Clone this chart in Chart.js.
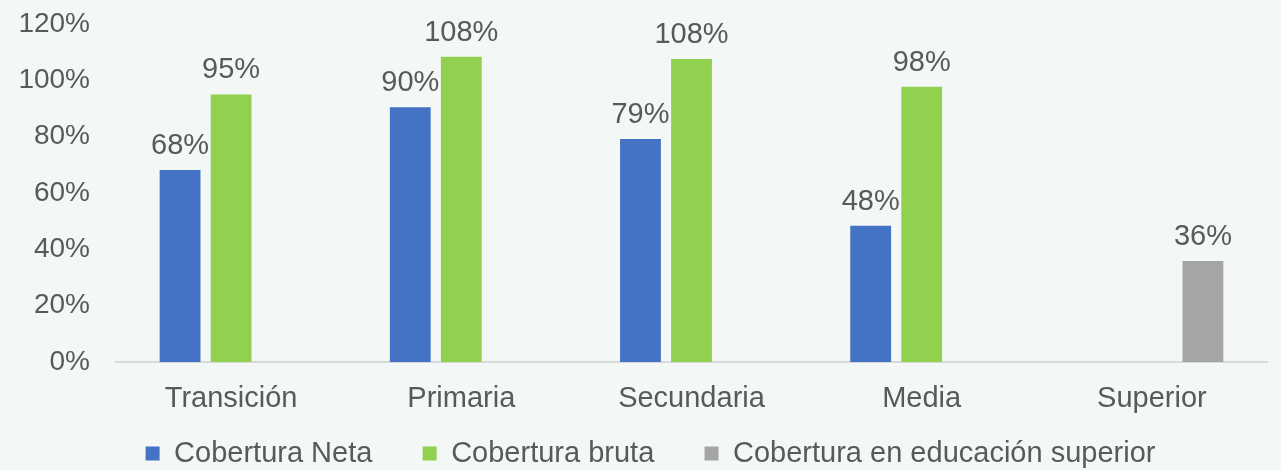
<!DOCTYPE html>
<html>
<head>
<meta charset="utf-8">
<script src="https://cdn.jsdelivr.net/npm/chart.js@4"></script>
<style>
	html, body { margin: 0; padding: 0; background: #f3f8f7; }
	#wrap { width: 1281px; height: 470px; }
</style>
</head>
<body>
<div id="wrap"><canvas id="chart"></canvas></div>
<script>
const categories = ['Transición', 'Primaria', 'Secundaria', 'Media', 'Superior'];
const coberturaNeta = [68.2, 90.4, 79.2, 48.4, null];
const coberturaBruta = [95.0, 108.4, 107.6, 97.7, null];
const coberturaSuperior = [null, null, null, null, 35.9];
const yTicks = [0, 20, 40, 60, 80, 100, 120];

const textColor = '#595959';
const fontFamily = '"Liberation Sans", Arial, sans-serif';
const fontSize = 29;
// extra gap between legend items (the legend padding option also sets its height)
const legendGap = '     ';

// draws the value above each bar
const barLabels = {
	id: 'barLabels',
	afterDatasetsDraw(chart) {
		const ctx = chart.ctx;
		ctx.save();
		ctx.fillStyle = textColor;
		ctx.font = fontSize + 'px ' + fontFamily;
		ctx.textAlign = 'center';
		ctx.textBaseline = 'alphabetic';
		chart.data.datasets.forEach((ds, i) => {
			const meta = chart.getDatasetMeta(i);
			meta.data.forEach((bar, j) => {
				const v = ds.data[j];
				if (v === null || v === undefined) return;
				ctx.fillText(Math.round(v) + '%', bar.x, bar.y - 16);
			});
		});
		ctx.restore();
	}
};

// legend sits a bit right of the canvas centre in the original
const legendShift = {
	id: 'legendShift',
	afterLayout(chart) {
		chart.legend.left += 15;
		chart.legend.right += 15;
	}
};

new Chart(document.getElementById('chart'), {
	type: 'bar',
	data: {
		labels: categories,
		datasets: [
			{ label: 'Cobertura Neta', data: coberturaNeta, backgroundColor: '#4472c4' },
			{ label: 'Cobertura bruta', data: coberturaBruta, backgroundColor: '#92d050' },
			{ label: 'Cobertura en educación superior', data: coberturaSuperior, backgroundColor: '#a5a5a5' },
		],
	},
	options: {
		responsive: true,
		maintainAspectRatio: false,
		animation: false,
		layout: { autoPadding: false, padding: { left: 4, right: 14, top: 24, bottom: -8 } },
		datasets: { bar: { categoryPercentage: 0.665, barPercentage: 0.8 } },
		plugins: {
			legend: {
				position: 'bottom',
				labels: {
					boxWidth: 14,
					boxHeight: 14,
					padding: 10,
					color: textColor,
					font: { family: fontFamily, size: fontSize },
					generateLabels: (chart) => {
						const items = Chart.defaults.plugins.legend.labels.generateLabels(chart);
						items.forEach((it, i) => {
							if (i < items.length - 1) it.text += legendGap;
						});
						return items;
					},
				},
			},
			tooltip: { enabled: false },
		},
		scales: {
			x: {
				grid: { display: false, drawTicks: false },
				border: { color: '#d9d9d9', width: 2 },
				ticks: { color: textColor, font: { family: fontFamily, size: fontSize }, padding: 20 },
				afterFit: (axis) => { axis.height = 67; },
			},
			y: {
				min: 0,
				max: 120,
				afterBuildTicks: (axis) => { axis.ticks = yTicks.map((v) => ({ value: v })); },
				afterFit: (axis) => {
					axis.width = 112;
					axis.paddingTop = 0;
					axis.paddingBottom = 0;
				},
				grid: { display: false, drawTicks: false },
				border: { display: false },
				ticks: {
					color: textColor,
					font: { family: fontFamily, size: 28 },
					padding: 26,
					callback: (v) => v + '%',
				},
			},
		},
	},
	plugins: [barLabels, legendShift],
});
</script>
</body>
</html>
